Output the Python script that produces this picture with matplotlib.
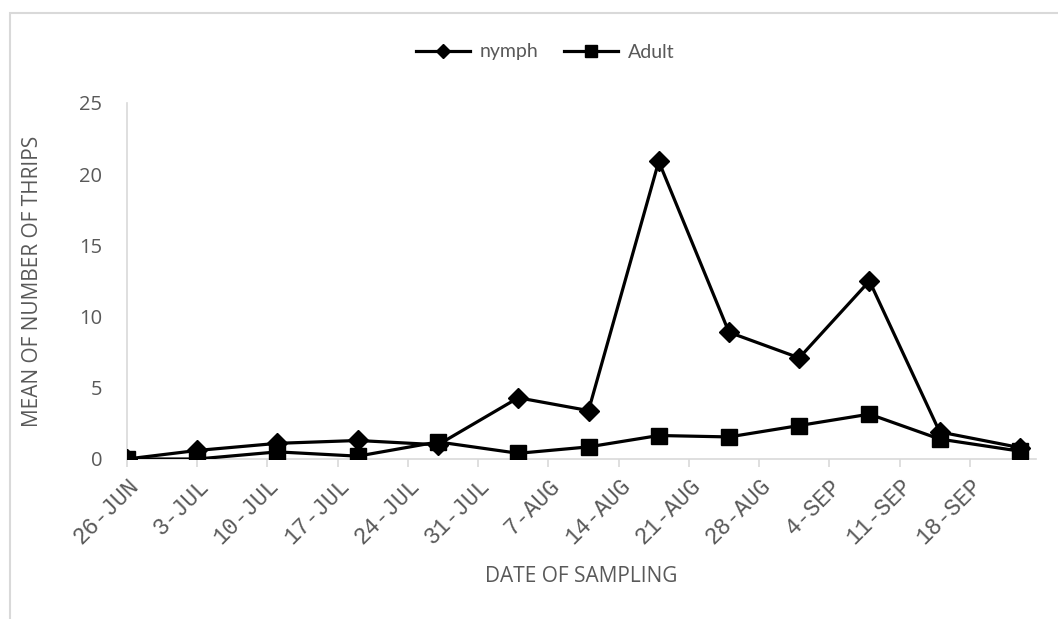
import pandas as pd
import matplotlib
matplotlib.use("Agg")
import matplotlib.pyplot as plt
import matplotlib.transforms as mtransforms
from matplotlib.patches import Rectangle

# ============================================
# DATA
# ============================================

sample_dates = pd.to_datetime([
    "2019-06-26", "2019-07-03", "2019-07-11", "2019-07-19", "2019-07-27",
    "2019-08-04", "2019-08-11", "2019-08-18", "2019-08-25", "2019-09-01",
    "2019-09-08", "2019-09-15", "2019-09-23",
])

nymph = [0.0, 0.6, 1.1, 1.3, 1.0, 4.3, 3.4, 20.9, 8.9, 7.1, 12.5, 1.9, 0.8]
adult = [0.0, 0.0, 0.5, 0.2, 1.2, 0.4, 0.85, 1.65, 1.55, 2.35, 3.15, 1.4, 0.55]

tick_labels = ["26-JUN", "3-JUL", "10-JUL", "17-JUL", "24-JUL", "31-JUL",
               "7-AUG", "14-AUG", "21-AUG", "28-AUG", "4-SEP", "11-SEP", "18-SEP"]
tick_dates = pd.date_range("2019-06-26", periods=len(tick_labels), freq="7D")

# ============================================
# STYLE
# ============================================

plt.rcParams["font.family"] = ["Open Sans", "DejaVu Sans"]
TEXT_GRAY = "#595959"
AXIS_GRAY = "#d9d9d9"

fig = plt.figure(figsize=(10.58, 6.19), dpi=100)
ax = fig.add_axes([127 / 1058, 1 - 459 / 619, (1036 - 127) / 1058, (459 - 103) / 619])

# chart frame (cropped on the right / bottom like the source)
fig.patches.append(Rectangle((10 / 1058, -0.05), 1.1, 1 - 13 / 619 + 0.05,
                             transform=fig.transFigure, fill=False,
                             edgecolor=AXIS_GRAY, linewidth=1.5))

ax.plot(sample_dates, nymph, color="black", linewidth=2.3, marker="D",
        markersize=10, label="nymph", zorder=3)
ax.plot(sample_dates, adult, color="black", linewidth=2.3, marker="s",
        markersize=12, label="Adult", zorder=4)

ax.set_ylim(0, 25)
ax.set_yticks([0, 5, 10, 15, 20, 25])
ax.set_xlim(tick_dates[0], tick_dates[0] + pd.Timedelta(days=90.6))
ax.set_xticks(tick_dates)
# the rotated Excel labels are widely letter-spaced, a mono font gets close
ax.set_xticklabels(tick_labels, rotation=45, ha="right", rotation_mode="anchor",
                   family="Liberation Mono")
shift = mtransforms.ScaledTranslation(6 / 100, 0, fig.dpi_scale_trans)
for lbl in ax.get_xticklabels():
    lbl.set_transform(lbl.get_transform() + shift)

for side in ["top", "right"]:
    ax.spines[side].set_visible(False)
ax.spines["left"].set_color(AXIS_GRAY)
ax.spines["bottom"].set_color(AXIS_GRAY)
ax.spines["left"].set_linewidth(1.2)
ax.spines["bottom"].set_linewidth(1.2)

ax.tick_params(axis="x", colors=AXIS_GRAY, labelcolor=TEXT_GRAY, length=6,
               width=1.2, labelsize=16.5, pad=5)
ax.tick_params(axis="y", length=0, labelcolor=TEXT_GRAY, labelsize=14.5, pad=18)

ax.set_xlabel("DATE OF SAMPLING", color=TEXT_GRAY, fontsize=15)
ax.set_ylabel("MEAN OF NUMBER OF THRIPS", color=TEXT_GRAY, fontsize=15)
ax.xaxis.set_label_coords(0.5, (459 - 577) / 356, transform=ax.transAxes)
ax.yaxis.set_label_coords((33 - 127) / 909, 0.5, transform=ax.transAxes)
ax.xaxis.label.set_va("center")
ax.yaxis.label.set_va("center")

leg = ax.legend(loc="center", bbox_to_anchor=(545 / 1058, 1 - 52 / 619),
                bbox_transform=fig.transFigure, ncol=2, frameon=False,
                prop={"family": "Lato", "size": 14}, handlelength=2.8,
                columnspacing=1.3, handletextpad=0.5, markerscale=0.75)
for t in leg.get_texts():
    t.set_color(TEXT_GRAY)

ax.patch.set_alpha(0)
fig.savefig("out.png", dpi=100, facecolor="white")
